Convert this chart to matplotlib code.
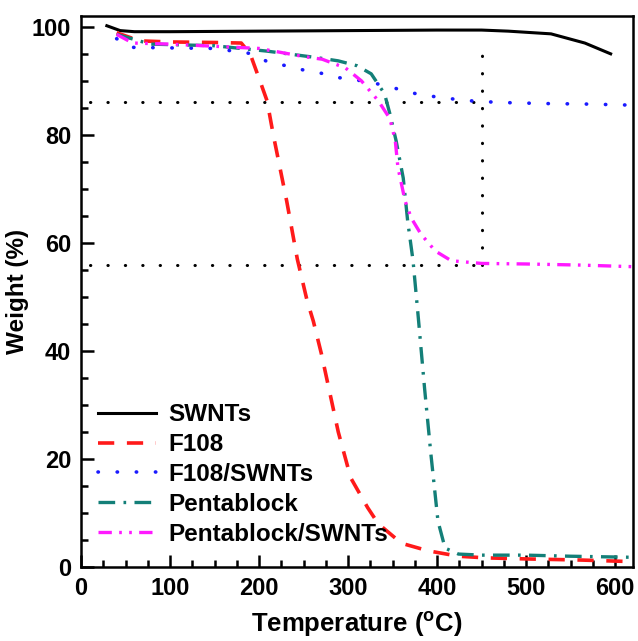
import matplotlib
matplotlib.use("Agg")
import matplotlib.pyplot as plt
from matplotlib.ticker import MultipleLocator

plt.rcParams.update({"font.family": ["Liberation Sans", "DejaVu Sans"], "font.weight": "bold",
                     "mathtext.fontset": "custom", "mathtext.rm": "Liberation Sans:bold",
                     "mathtext.bf": "Liberation Sans:bold"})

# --- data (temperature in °C, weight in %) ---
swnt_t = [29, 44, 60, 100, 200, 300, 400, 450, 480, 528, 566, 595]
swnt_w = [100.2, 99.3, 99.1, 99.1, 99.2, 99.3, 99.4, 99.4, 99.2, 98.7, 97.0, 95.0]

f108_t = [40, 66, 100, 150, 180, 190, 201, 209, 216, 231, 243, 254, 261, 270, 289, 303,
          322, 334, 360, 390, 424, 454, 500, 560, 620]
f108_w = [98.9, 97.4, 97.2, 97.1, 97.0, 95.0, 90.0, 86.3, 80.0, 67.8, 57.0, 49.3, 45.5, 39.5,
          25.0, 16.5, 11.0, 8.0, 4.4, 3.0, 2.0, 1.7, 1.5, 1.3, 1.0]

f108s_t = [40, 58, 100, 150, 193, 212, 231, 250, 270, 289, 308, 326, 345, 364, 382, 401,
           420, 438, 470, 520, 570, 620]
f108s_w = [97.8, 96.2, 96.1, 96.0, 95.0, 93.3, 92.8, 92.0, 91.4, 90.6, 90.2, 89.7, 89.0,
           88.1, 87.4, 87.0, 86.6, 86.3, 86.0, 85.8, 85.7, 85.5]

penta_t = [40, 78, 150, 209, 265, 289, 310, 326, 341, 347, 354, 362, 367, 373, 379, 386,
           393, 401, 409, 424, 450, 500, 550, 620]
penta_w = [98.6, 96.8, 96.5, 95.5, 94.3, 93.7, 92.8, 91.3, 87.6, 83.9, 78.9, 72.0, 64.0,
           56.7, 46.0, 33.0, 21.0, 8.5, 3.5, 2.4, 2.2, 2.2, 2.0, 1.8]

pentas_t = [40, 58, 100, 200, 250, 271, 297, 315, 334, 347, 353, 356, 364, 371, 382, 398,
            416, 450, 500, 560, 620]
pentas_w = [98.6, 97.0, 96.8, 96.0, 94.5, 94.0, 92.4, 90.0, 86.3, 83.0, 79.0, 74.0, 67.8,
            64.6, 61.6, 58.5, 56.7, 56.2, 56.1, 55.9, 55.6]

guide_y = [86, 56]
guide_x = 450
guide_top = 97

fig = plt.figure(figsize=(6.38, 6.41), dpi=100)
ax = fig.add_axes([0.127, 0.1154, 0.865, 0.8596])

# reference guide lines
dot = dict(color="black", lw=2.2, ls=(0, (0.1, 5.6)), dash_capstyle="round")
for gy in guide_y:
    ax.plot([10, guide_x], [gy, gy], **dot)
ax.plot([guide_x, guide_x], [guide_y[1], guide_top], **dot)

ax.plot(swnt_t, swnt_w, color="black", lw=2.2, label="SWNTs")
ax.plot(f108_t, f108_w, color="#ff1a1a", lw=2.6, ls=(0, (4.5, 3.5)), label="F108")
ax.plot(f108s_t, f108s_w, color="#1a1aff", lw=2.6, ls=(0, (0.1, 5.2)),
        dash_capstyle="round", label="F108/SWNTs")
ax.plot(penta_t, penta_w, color="#137f78", lw=2.4, ls=(0, (5, 2.5, 0.8, 2.5)),
        label="Pentablock")
ax.plot(pentas_t, pentas_w, color="#ff19ff", lw=2.4, ls=(0, (4, 2.2, 0.8, 2.2, 0.8, 2.2)),
        label="Pentablock/SWNTs")

ax.set_xlim(0, 620)
ax.set_ylim(0, 102)
ax.xaxis.set_major_locator(MultipleLocator(100))
ax.xaxis.set_minor_locator(MultipleLocator(25))
ax.yaxis.set_major_locator(MultipleLocator(20))
ax.yaxis.set_minor_locator(MultipleLocator(5))
ax.tick_params(which="both", direction="in", width=1.8, labelsize=17, top=False, right=False)
ax.tick_params(which="major", length=9)
ax.tick_params(axis="x", which="major", pad=7)
ax.tick_params(axis="y", which="major", pad=7)
ax.tick_params(which="minor", length=5)
for s in ax.spines.values():
    s.set_linewidth(1.8)
for lb in ax.get_xticklabels() + ax.get_yticklabels():
    lb.set_fontweight("bold")

ax.set_xlabel(r"Temperature ($^{\mathrm{o}}$C)", fontsize=18.5, fontweight="bold", labelpad=7)
ax.set_ylabel("Weight (%)", fontsize=17.5, fontweight="bold", labelpad=2)

leg = ax.legend(loc="lower left", frameon=False, fontsize=17.5, handlelength=2.4,
                handletextpad=0.5, labelspacing=0.28, borderaxespad=0.3,
                bbox_to_anchor=(0.0, 0.008))
for t in leg.get_texts():
    t.set_fontweight("bold")

fig.savefig("out.png", dpi=100)
